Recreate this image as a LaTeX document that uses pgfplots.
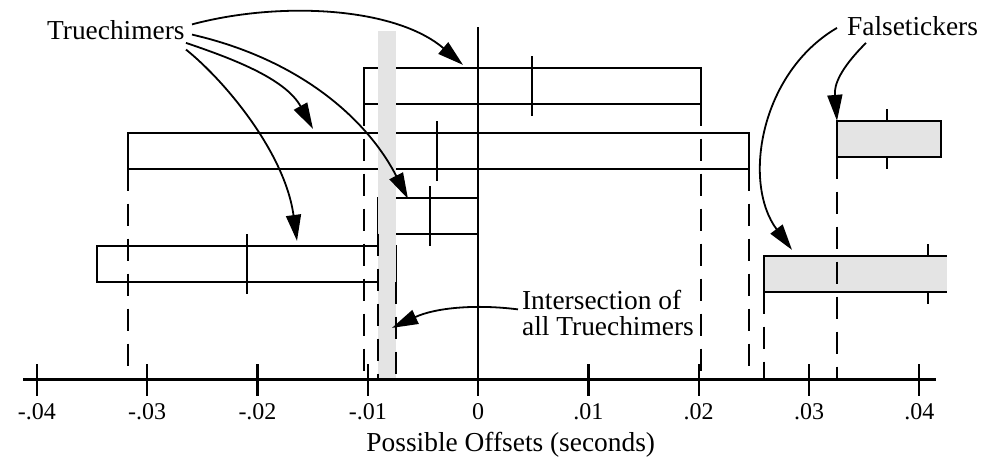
\documentclass[border=0pt]{standalone}
\usepackage{pgfplots}
\pgfplotsset{compat=1.18}
\usepackage{fontspec}
\setmainfont{Liberation Serif}
\usetikzlibrary{arrows.meta}
\definecolor{band}{RGB}{228,228,228}
\tikzset{ann/.style={line width=0.9pt, -{Triangle[length=13pt,width=7.5pt]}}}
\newcommand{\annfont}{\fontsize{13.7}{16}\selectfont}
\begin{document}
\begin{tikzpicture}
\begin{axis}[
  at={(11.5pt,0pt)}, anchor=south west,
  scale only axis, width=456.5pt, height=228pt,
  xmin=-0.041260, xmax=0.041514,
  ymin=-79.3, ymax=376.7,
  axis x line*=middle, axis y line=none,
  axis on top, clip=false, no markers,
  scaled x ticks=false,
  xtick={-0.04,-0.03,-0.02,-0.01,0,0.01,0.02,0.03,0.04},
  xticklabels={-.04,-.03,-.02,-.01,0,.01,.02,.03,.04},
  xtick align=center,
  major tick length=16pt,
  every tick/.style={black, line width=1.1pt},
  x axis line style={line width=1.3pt},
  xticklabel style={font=\fontsize{12}{14}\selectfont, anchor=base, yshift=-12.1pt},
  xlabel={Possible Offsets (seconds)},
  every axis x label/.style={at={(axis cs:-0.01016,-71.6)}, anchor=base west, inner sep=0pt, font=\annfont},
]
% inner ticks of the falsetickers (hidden inside their boxes)
\addplot[line width=1pt] coordinates {(0.0371,211) (0.0371,271)};
\addplot[line width=1pt] coordinates {(0.04076,76) (0.04076,136)};
% falsetickers
\addplot[draw=black, fill=band, line width=1pt] coordinates {(0.03254,223) (0.04197,223) (0.04197,259) (0.03254,259)} -- cycle;
\addplot[draw=none, fill=band] coordinates {(0.02589,88) (0.04248,88) (0.04248,124) (0.02589,124)} -- cycle;
\addplot[line width=1pt] coordinates {(0.04248,124) (0.02589,124) (0.02589,88) (0.04248,88)};
% truechimers
\addplot[line width=1pt] coordinates {(-0.01037,276) (0.02021,276) (0.02021,312) (-0.01037,312)} -- cycle;
\addplot[line width=1pt] coordinates {(-0.03171,211) (0.02456,211) (0.02456,247) (-0.03171,247)} -- cycle;
\addplot[line width=1pt] coordinates {(-0.00907,146) (0,146) (0,182) (-0.00907,182)} -- cycle;
\addplot[line width=1pt] coordinates {(-0.03458,98) (-0.00744,98) (-0.00744,134) (-0.03458,134)} -- cycle;
\addplot[line width=1pt] coordinates {(0.00486,264) (0.00486,324)};
\addplot[line width=1pt] coordinates {(-0.00373,199) (-0.00373,259)};
\addplot[line width=1pt] coordinates {(-0.00439,134) (-0.00439,194)};
\addplot[line width=1pt] coordinates {(-0.02098,86) (-0.02098,146)};
% intersection band
\addplot[draw=none, fill=band] coordinates {(-0.00907,0) (-0.00744,0) (-0.00744,348.4) (-0.00907,348.4)} -- cycle;
% dashed drop lines
\addplot[line width=1pt, dash pattern=on 11pt off 6.5pt] coordinates {(-0.01037,276) (-0.01037,0)};
\addplot[line width=1pt, dash pattern=on 11pt off 6.5pt] coordinates {(0.02021,276) (0.02021,0)};
\addplot[line width=1pt, dash pattern=on 11pt off 6.5pt] coordinates {(-0.03171,211) (-0.03171,0)};
\addplot[line width=1pt, dash pattern=on 11pt off 6.5pt] coordinates {(0.02456,211) (0.02456,0)};
\addplot[line width=1pt, dash pattern=on 11pt off 6.5pt] coordinates {(-0.00907,146) (-0.00907,0)};
\addplot[line width=1pt, dash pattern=on 11pt off 6.5pt] coordinates {(-0.00744,98) (-0.00744,0)};
\addplot[line width=1pt, dash pattern=on 11pt off 6.5pt] coordinates {(0.03254,223) (0.03254,0)};
\addplot[line width=1pt, dash pattern=on 11pt off 6.5pt] coordinates {(0.02589,88) (0.02589,0)};
% zero line
\addplot[line width=1pt] coordinates {(0,0) (0,352.7)};
\end{axis}
\begin{scope}[x=0.5pt, y=-0.5pt, shift={(0pt,228pt)}]
\path (0,0) rectangle (988,456);
\node[anchor=base west, inner sep=0pt, font=\annfont] at (46.7,36.7) {Truechimers};
\node[anchor=base west, inner sep=0pt, font=\annfont] at (846.7,32.3) {Falsetickers};
\node[anchor=base west, inner sep=0pt, font=\annfont] at (521.7,306.7) {Intersection of};
\node[anchor=base west, inner sep=0pt, font=\annfont] at (521.7,332.5) {all Truechimers};
\draw[ann] (192,21.5) .. controls (280,-2) and (395,4) .. (463,62);
\draw[ann] (186,40) .. controls (230,55) and (285,75) .. (313,126);
\draw[ann] (192,31.7) .. controls (302,57) and (368,118) .. (408,196);
\draw[ann] (186,46.7) .. controls (225,78) and (285,150) .. (297,238);
\draw[ann] (866,40) .. controls (840,66) and (834,82) .. (837,118);
\draw[ann] (837,25) .. controls (760,70) and (742,180) .. (792,247);
\draw[ann] (518,306.5) .. controls (475,301) and (435,305) .. (392,325);
\end{scope}
\end{tikzpicture}
\end{document}
